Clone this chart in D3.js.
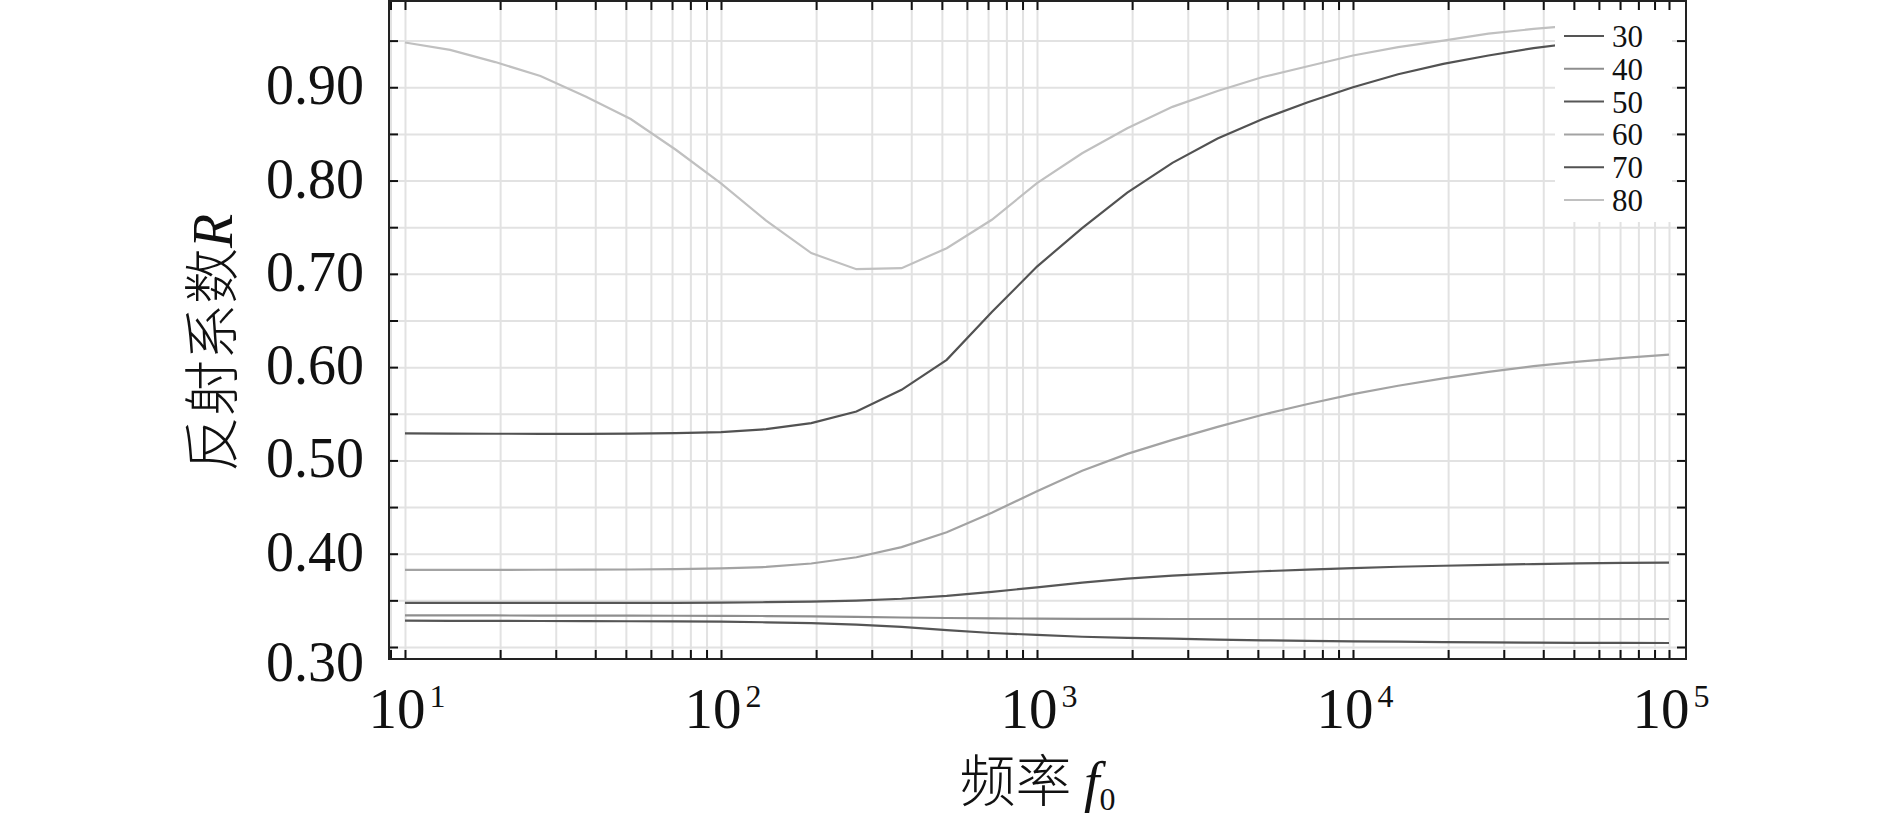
<!DOCTYPE html>
<html>
<head>
<meta charset="utf-8">
<script src="https://cdn.jsdelivr.net/npm/d3@7"></script>
<style>
  body { margin: 0; background: #fff; }
  svg { display: block; }
</style>
</head>
<body>
<div id="chart"></div>
<script>
let w = 1890;
let h = 831;
let plot = { left: 389, right: 1686, top: 1, bottom: 659 };

// frequency samples (log spaced, 7 per decade)
const freqs = [10, 13.895, 19.307, 26.827, 37.276, 51.795, 71.969,
  100, 138.95, 193.07, 268.27, 372.76, 517.95, 719.69,
  1000, 1389.5, 1930.7, 2682.7, 3727.6, 5179.5, 7196.9,
  10000, 13895, 19307, 26827, 37276, 51795, 71969, 100000];

const r30 = [0.3282, 0.3281, 0.3280, 0.3279, 0.3278, 0.3276, 0.3274, 0.3271, 0.3265, 0.3255, 0.3240, 0.3215, 0.3180, 0.3150, 0.3130,
  0.3110, 0.3097, 0.3090, 0.3080, 0.3072, 0.3066, 0.3061, 0.3057, 0.3053, 0.3050, 0.3047, 0.3045, 0.3044, 0.3043];
const r40 = [0.3338, 0.3338, 0.3338, 0.3337, 0.3337, 0.3336, 0.3335, 0.3334, 0.3332, 0.3328, 0.3322, 0.3316, 0.3311, 0.3307, 0.3304,
  0.3302, 0.3301, 0.3300, 0.3300, 0.3300, 0.3300, 0.3300, 0.3300, 0.3300, 0.3300, 0.3300, 0.3300, 0.3300, 0.3300];
const r50 = [0.3472, 0.3472, 0.3472, 0.3472, 0.3472, 0.3473, 0.3474, 0.3476, 0.3480, 0.3487, 0.3498, 0.3517, 0.3548, 0.3590, 0.3640,
  0.3690, 0.3732, 0.3765, 0.3790, 0.3812, 0.3830, 0.3846, 0.3860, 0.3871, 0.3881, 0.3889, 0.3896, 0.3901, 0.3905];
const r60 = [0.3826, 0.3826, 0.3827, 0.3828, 0.3829, 0.3831, 0.3835, 0.3842, 0.3858, 0.3895, 0.3962, 0.4071, 0.4230, 0.4440, 0.4670,
  0.4890, 0.5070, 0.5220, 0.5360, 0.5490, 0.5605, 0.5710, 0.5800, 0.5880, 0.5950, 0.6010, 0.6060, 0.6100, 0.6135];
const r70 = [0.5290, 0.5288, 0.5286, 0.5285, 0.5285, 0.5287, 0.5292, 0.5303, 0.5335, 0.5400, 0.5525, 0.5757, 0.6078, 0.6590, 0.7078,
  0.7490, 0.7870, 0.8190, 0.8450, 0.8660, 0.8840, 0.9000, 0.9140, 0.9250, 0.9340, 0.9420, 0.9480, 0.9530, 0.9570];
const r80 = [0.9480, 0.9400, 0.9270, 0.9120, 0.8900, 0.8660, 0.8330, 0.7970, 0.7570, 0.7222, 0.7050, 0.7061, 0.7275, 0.7580, 0.7972,
  0.8293, 0.8560, 0.8790, 0.8960, 0.9110, 0.9225, 0.9340, 0.9430, 0.9500, 0.9575, 0.9625, 0.9665, 0.9695, 0.9720];

const seriesNames = ["30", "40", "50", "60", "70", "80"];
const seriesValues = [r30, r40, r50, r60, r70, r80];
const seriesColors = ["#555555", "#8e8e8e", "#575757", "#a3a3a3", "#525252", "#c0c0c0"];

const yTicks = [0.30, 0.35, 0.40, 0.45, 0.50, 0.55, 0.60, 0.65, 0.70, 0.75, 0.80, 0.85, 0.90, 0.95];
const yLabels = [0.30, 0.40, 0.50, 0.60, 0.70, 0.80, 0.90];
const xMajor = [1, 2, 3, 4, 5];   // exponents of the labelled decades

const serif = "'Liberation Serif', 'Times New Roman', serif";
const cjk = "'Noto Sans CJK SC', sans-serif";

let svg = d3.select("#chart")
            .append("svg")
            .attr("width", w)
            .attr("height", h);

svg.append("rect").attr("width", w).attr("height", h).attr("fill", "#fff");

// scales
let xScale = d3.scaleLog()
               .domain([Math.pow(10, 0.9494), Math.pow(10, 5.0538)])
               .range([plot.left, plot.right]);
let yScale = d3.scaleLinear()
               .domain([0.28714, 0.99246])
               .range([plot.bottom, plot.top]);

// minor tick values 9 .. 1e5
let xMinor = [9];
[10, 100, 1000, 10000].forEach((d) => {
  for (let m = 1; m <= 9; m++) xMinor.push(m * d);
});
xMinor.push(100000);

// grid
let grid = svg.append("g").attr("class", "grid");
grid.append("g")
    .attr("transform", `translate(0,${plot.bottom})`)
    .call(d3.axisBottom(xScale).tickValues(xMinor).tickSize(-(plot.bottom - plot.top)).tickFormat(""));
grid.append("g")
    .attr("transform", `translate(${plot.left},0)`)
    .call(d3.axisLeft(yScale).tickValues(yTicks).tickSize(-(plot.right - plot.left)).tickFormat(""));
grid.selectAll(".domain").remove();
grid.selectAll("line").attr("stroke", "#e2e2e2").attr("stroke-width", 2);

// curves
let line = d3.line()
             .x((d) => xScale(d[0]))
             .y((d) => yScale(d[1]));

svg.append("g")
   .selectAll("path")
   .data(seriesValues)
   .enter()
   .append("path")
   .attr("d", (vals) => line(vals.map((v, i) => [freqs[i], v])))
   .attr("fill", "none")
   .attr("stroke", (d, i) => seriesColors[i])
   .attr("stroke-width", 2.2);

// legend
let legend = svg.append("g").attr("id", "legend");
legend.append("rect")
      .attr("x", 1555).attr("y", 10)
      .attr("width", 117).attr("height", 212)
      .attr("fill", "#fff");
let rows = legend.selectAll("g.row")
                 .data(seriesNames)
                 .enter()
                 .append("g")
                 .attr("class", "row")
                 .attr("transform", (d, i) => `translate(1564,${36 + i * 32.8})`);
rows.append("line")
    .attr("x1", 0).attr("x2", 40)
    .attr("stroke", (d, i) => seriesColors[i])
    .attr("stroke-width", 2);
rows.append("text")
    .attr("x", 48).attr("y", 11)
    .attr("font-family", serif)
    .attr("font-size", 31)
    .attr("fill", "#111")
    .text((d) => d);

// frame and inward ticks
let axes = svg.append("g").attr("class", "axes");
let tickLen = 9;
axes.append("g")
    .attr("transform", `translate(0,${plot.bottom})`)
    .call(d3.axisBottom(xScale).tickValues(xMinor).tickSize(-tickLen).tickFormat(""));
axes.append("g")
    .attr("transform", `translate(0,${plot.top})`)
    .call(d3.axisTop(xScale).tickValues(xMinor).tickSize(-tickLen).tickFormat(""));
axes.append("g")
    .attr("transform", `translate(${plot.left},0)`)
    .call(d3.axisLeft(yScale).tickValues(yTicks).tickSize(-tickLen).tickFormat(""));
axes.append("g")
    .attr("transform", `translate(${plot.right},0)`)
    .call(d3.axisRight(yScale).tickValues(yTicks).tickSize(-tickLen).tickFormat(""));
axes.selectAll(".domain").remove();
axes.selectAll("line").attr("stroke", "#111").attr("stroke-width", 2);
axes.append("rect")
    .attr("x", plot.left).attr("y", plot.top)
    .attr("width", plot.right - plot.left)
    .attr("height", plot.bottom - plot.top)
    .attr("fill", "none")
    .attr("stroke", "#222")
    .attr("stroke-width", 2);

// y labels
svg.append("g")
   .selectAll("text")
   .data(yLabels)
   .enter()
   .append("text")
   .attr("x", 364)
   .attr("y", (d) => yScale(d) + (d < 0.35 ? 34 : 17))
   .attr("text-anchor", "end")
   .attr("font-family", serif)
   .attr("font-size", 56)
   .attr("fill", "#111")
   .text(d3.format(".2f"));

// x labels 10^n
let xl = svg.append("g")
            .selectAll("text")
            .data(xMajor)
            .enter()
            .append("text")
            .attr("x", (d) => xScale(Math.pow(10, d)) + 2)
            .attr("y", 728)
            .attr("text-anchor", "middle")
            .attr("font-family", serif)
            .attr("font-size", 57)
            .attr("fill", "#111");
xl.append("tspan").text("10");
xl.append("tspan")
  .attr("dx", 4).attr("dy", -21)
  .attr("font-size", 32)
  .text((d) => d);

// axis titles
let xt = svg.append("text")
            .attr("x", (plot.left + plot.right) / 2)
            .attr("y", 801)
            .attr("text-anchor", "middle")
            .attr("font-size", 56)
            .attr("fill", "#111");
xt.append("tspan").attr("font-family", cjk).attr("font-weight", 300).text("频率 ");
xt.append("tspan").attr("font-family", serif).attr("font-style", "italic").text("f");
xt.append("tspan").attr("font-family", serif).attr("font-size", 32).attr("dy", 9).text("0");

let yt = svg.append("text")
            .attr("transform", `translate(232,343) rotate(-90)`)
            .attr("text-anchor", "middle")
            .attr("font-size", 56)
            .attr("fill", "#111");
yt.append("tspan").attr("font-family", cjk).attr("font-weight", 300).text("反射系数");
yt.append("tspan").attr("font-family", serif).attr("font-style", "italic").text("R");
</script>
</body>
</html>
